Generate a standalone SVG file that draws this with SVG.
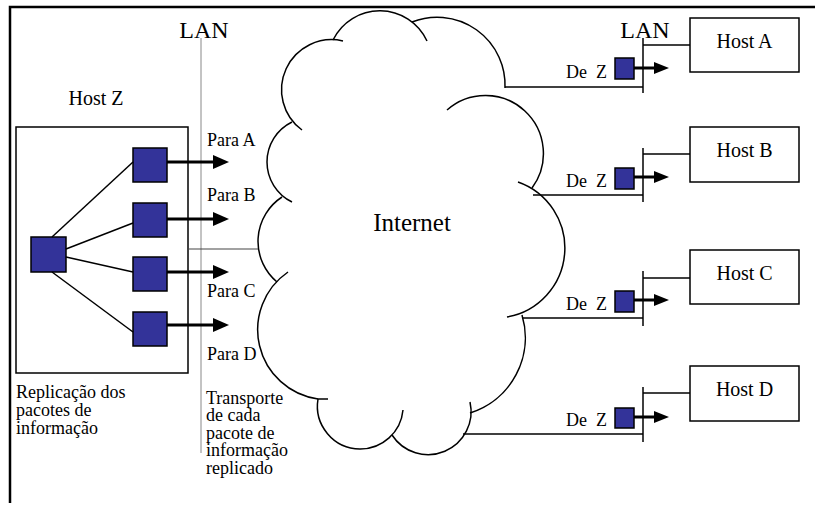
<svg xmlns="http://www.w3.org/2000/svg" width="815" height="506" viewBox="0 0 815 506">
<defs>
<style>
text{font-family:'Liberation Serif','Tinos','Times New Roman','DejaVu Serif',serif;fill:#000}
.t18{font-size:18px}
.lan{font-size:24px}
.host{font-size:20px;text-anchor:middle}
.box{fill:#fff;stroke:#000;stroke-width:1.5}
.sq{fill:#333399;stroke:#000;stroke-width:1.5}
.thin{stroke:#000;stroke-width:1.5;fill:none}
.arr{stroke:#000;stroke-width:3;fill:none;marker-end:url(#ah)}
.arrs{stroke:#000;stroke-width:3;fill:none;marker-end:url(#ahs)}
.cloud{fill:none;stroke:#000;stroke-width:1.5}
</style>
<marker id="ah" markerUnits="userSpaceOnUse" markerWidth="16" markerHeight="14" refX="9" refY="7" orient="auto"><path d="M0,0 L16,7 L0,14 z" fill="#000"/></marker>
<marker id="ahs" markerUnits="userSpaceOnUse" markerWidth="15" markerHeight="12" refX="8" refY="6" orient="auto"><path d="M0,0 L15,6 L0,12 z" fill="#000"/></marker>
</defs>
<rect width="815" height="506" fill="#fff"/>
<path d="M10,503 L10,7 L815,7" fill="none" stroke="#000" stroke-width="2.5"/>

<g id="cloud">
<path class="cloud" d="M302,130 A50,50 0 0 1 343,41"/>
<path class="cloud" d="M333,40 A52,52 0 0 1 427,41"/>
<path class="cloud" d="M412,22 A68,68 0 0 1 505,88"/>
<path class="cloud" d="M447,110 A58,58 0 0 1 532,188"/>
<path class="cloud" d="M518,182 A70,70 0 0 1 507,317"/>
<path class="cloud" d="M522,315 A79,79 0 0 1 470,413"/>
<path class="cloud" d="M470,402 A43,43 0 0 1 392,435"/>
<path class="cloud" d="M403,410 A43,43 0 0 1 360,449 A43,43 0 0 1 318,399 L328,399"/>
<path class="cloud" d="M318,399 A70,70 0 0 1 288,272"/>
<path class="cloud" d="M277,282 A53,53 0 0 1 282,197"/>
<path class="cloud" d="M292,202 A44.5,44.5 0 0 1 292,122"/>
<text x="412" y="231" font-size="25" text-anchor="middle" font-family="Liberation Serif, Tinos, DejaVu Serif, serif">Internet</text>
</g>

<g id="hostZ">
<text class="host" x="96" y="105" font-family="Liberation Serif, serif">Host Z</text>
<rect class="box" x="16" y="127" width="172" height="246"/>
<rect class="sq" x="31" y="237" width="35" height="35"/>
<rect class="sq" x="133" y="148" width="34" height="34"/>
<rect class="sq" x="133" y="203" width="34" height="34"/>
<rect class="sq" x="133" y="257" width="34" height="34"/>
<rect class="sq" x="133" y="312" width="34" height="34"/>
<text class="t18" x="16" font-family="Liberation Serif, serif"><tspan x="16" y="398">Replicação dos</tspan><tspan x="16" y="416">pacotes de</tspan><tspan x="16" y="434">informação</tspan></text>
</g>

<g id="lanLeft">
<text class="lan" x="204" y="38" text-anchor="middle" font-family="Liberation Serif, serif">LAN</text>
<line x1="201" y1="38" x2="201" y2="453" stroke="#888" stroke-width="1"/>
<text class="t18" x="206" font-family="Liberation Serif, serif"><tspan x="206" y="404">Transporte</tspan><tspan x="206" y="421">de cada</tspan><tspan x="206" y="439">pacote de</tspan><tspan x="206" y="456">informação</tspan><tspan x="206" y="474">replicado</tspan></text>
</g>

<g id="lanRightLabel">
<text class="lan" x="645" y="38" text-anchor="middle" font-family="Liberation Serif, serif">LAN</text>
</g>

<g id="hostA">
<rect class="box" x="690" y="18" width="109" height="54"/>
<text class="host" x="744.5" y="48" font-family="Liberation Serif, serif">Host A</text>
<rect class="sq" x="615" y="58" width="19" height="21"/>
<text class="t18" x="607" y="78" text-anchor="end" xml:space="preserve" font-family="Liberation Serif, serif">De  Z</text>
</g>
<g id="hostB">
<rect class="box" x="690" y="127" width="109" height="55"/>
<text class="host" x="744.5" y="157" font-family="Liberation Serif, serif">Host B</text>
<rect class="sq" x="615" y="168" width="19" height="21"/>
<text class="t18" x="607" y="187" text-anchor="end" xml:space="preserve" font-family="Liberation Serif, serif">De  Z</text>
</g>
<g id="hostC">
<rect class="box" x="690" y="250" width="109" height="54"/>
<text class="host" x="744.5" y="280" font-family="Liberation Serif, serif">Host C</text>
<rect class="sq" x="615" y="291" width="19" height="21"/>
<text class="t18" x="607" y="310" text-anchor="end" xml:space="preserve" font-family="Liberation Serif, serif">De  Z</text>
</g>
<g id="hostD">
<rect class="box" x="690" y="366" width="109" height="55"/>
<text class="host" x="744.5" y="396" font-family="Liberation Serif, serif">Host D</text>
<rect class="sq" x="615" y="408" width="19" height="20"/>
<text class="t18" x="607" y="426" text-anchor="end" xml:space="preserve" font-family="Liberation Serif, serif">De  Z</text>
</g>

<g id="connectors">
<line class="thin" x1="52" y1="237" x2="133" y2="162"/>
<line class="thin" x1="66" y1="249" x2="133" y2="223"/>
<line class="thin" x1="66" y1="257" x2="133" y2="272"/>
<line class="thin" x1="52" y1="272" x2="133" y2="332"/>
<line class="arr" x1="167" y1="162" x2="222" y2="162"/>
<line class="arr" x1="167" y1="219" x2="222" y2="219"/>
<line class="arr" x1="167" y1="272" x2="222" y2="272"/>
<line class="arr" x1="167" y1="325" x2="222" y2="325"/>
<text class="t18" x="207" y="146" font-family="Liberation Serif, serif">Para A</text>
<text class="t18" x="207" y="201" font-family="Liberation Serif, serif">Para B</text>
<text class="t18" x="207" y="297" font-family="Liberation Serif, serif">Para C</text>
<text class="t18" x="207" y="360" font-family="Liberation Serif, serif">Para D</text>
<line x1="188" y1="249" x2="258" y2="249" stroke="#444" stroke-width="1.2"/>
<line class="thin" x1="505" y1="87" x2="643" y2="87"/>
<line class="thin" x1="533" y1="195" x2="643" y2="195"/>
<line class="thin" x1="522" y1="318" x2="643" y2="318"/>
<line class="thin" x1="463" y1="434" x2="643" y2="434"/>
<line class="thin" x1="643" y1="38" x2="643" y2="93"/>
<line class="thin" x1="643" y1="148" x2="643" y2="202"/>
<line class="thin" x1="643" y1="271" x2="643" y2="326"/>
<line class="thin" x1="643" y1="387" x2="643" y2="442"/>
<line class="thin" x1="643" y1="45" x2="690" y2="45"/>
<line class="thin" x1="643" y1="154" x2="690" y2="154"/>
<line class="thin" x1="643" y1="278" x2="690" y2="278"/>
<line class="thin" x1="643" y1="393" x2="690" y2="393"/>
<line class="arrs" x1="634" y1="68" x2="662" y2="68"/>
<line class="arrs" x1="634" y1="177" x2="662" y2="177"/>
<line class="arrs" x1="634" y1="300" x2="662" y2="300"/>
<line class="arrs" x1="634" y1="417" x2="662" y2="417"/>
</g>
</svg>
